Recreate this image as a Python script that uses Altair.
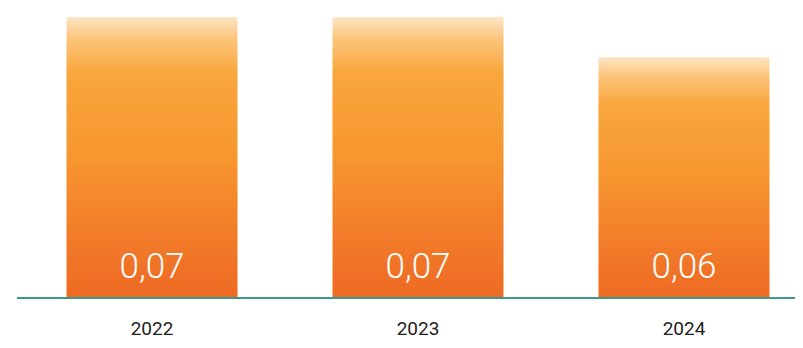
import altair as alt
import pandas as pd

years = ["2022", "2023", "2024"]
values = [0.07, 0.07, 0.06]
labels = ["0,07", "0,07", "0,06"]

df = pd.DataFrame({"year": years, "value": values, "label": labels})

FONT = "Roboto, Liberation Sans, sans-serif"

xscale = alt.Scale(domain=years, range=[58.5, 761.5], paddingInner=0.357, paddingOuter=0)
yscale = alt.Scale(domain=[0, 0.07], range=[290, 9], nice=False, zero=True)

grad = alt.Gradient(
    gradient="linear", x1=0, y1=0, x2=0, y2=1,
    stops=[
        alt.GradientStop(color="#fde6c6", offset=0.0),
        alt.GradientStop(color="#fbc47a", offset=0.08),
        alt.GradientStop(color="#f9a63c", offset=0.2),
        alt.GradientStop(color="#f7962f", offset=0.5),
        alt.GradientStop(color="#f27e2a", offset=0.75),
        alt.GradientStop(color="#ee6a24", offset=1.0),
    ],
)

base = alt.Chart(df)

bars = base.mark_bar(color=grad).encode(
    x=alt.X("year:N", scale=xscale, axis=None),
    y=alt.Y("value:Q", scale=yscale, axis=None),
)

vals = base.mark_text(color="white", font=FONT, fontSize=35, fontWeight=300, baseline="middle").encode(
    x=alt.X("year:N", scale=xscale, axis=None),
    y=alt.value(267 - 8),
    text="label:N",
)

yrs = base.mark_text(color="#222222", font=FONT, fontSize=19, baseline="middle").encode(
    x=alt.X("year:N", scale=xscale, axis=None),
    y=alt.value(329 - 8),
    text="year:N",
)

baseline = alt.Chart(pd.DataFrame({"v": [0]})).mark_rule(color="#3a9a86", strokeWidth=2).encode(
    x=alt.value(9), x2=alt.value(800),
    y=alt.Y("v:Q", scale=yscale, axis=None),
)

chart = alt.layer(bars, baseline, vals, yrs).properties(
    width=787, height=332, autosize=alt.AutoSizeParams(type="none"), padding=0
).configure_view(stroke=None)

chart.save("out.html", embed_options={"renderer": "svg", "actions": False})
